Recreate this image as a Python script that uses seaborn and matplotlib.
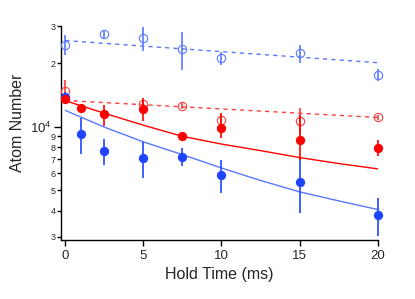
import numpy as np
import pandas as pd
import matplotlib
matplotlib.use("Agg")
import matplotlib.pyplot as plt
import matplotlib.ticker as mticker
import seaborn as sns

t_filled = [0, 1, 2.5, 5, 7.5, 10, 15, 20]
blue_filled = [1.386e4, 9.27e3, 7.64e3, 7.11e3, 7.19e3, 5.89e3, 5.48e3, 3.81e3]
blue_filled_lo = [1.31e4, 7.43e3, 6.56e3, 5.72e3, 6.49e3, 4.86e3, 3.88e3, 3.03e3]
blue_filled_hi = [1.46e4, 1.099e4, 8.75e3, 8.43e3, 7.93e3, 6.93e3, 7.11e3, 4.60e3]

red_filled = [1.36e4, 1.225e4, 1.143e4, 1.212e4, 9.0e3, 9.82e3, 8.68e3, 7.93e3]
red_filled_lo = [1.29e4, 1.18e4, 1.011e4, 1.059e4, 8.7e3, 8.84e3, 6.98e3, 7.24e3]
red_filled_hi = [1.45e4, 1.27e4, 1.27e4, 1.366e4, 9.3e3, 1.16e4, 1.14e4, 8.62e3]

t_blue_open = [0, 2.5, 5, 7.5, 10, 15, 20]
blue_open = [2.44e4, 2.74e4, 2.62e4, 2.33e4, 2.11e4, 2.23e4, 1.76e4]
blue_open_lo = [2.19e4, 2.63e4, 2.29e4, 1.85e4, 1.96e4, 2.01e4, 1.65e4]
blue_open_hi = [2.72e4, 2.84e4, 2.97e4, 2.82e4, 2.27e4, 2.44e4, 1.87e4]

t_red_open = [0, 5, 7.5, 10, 15, 20]
red_open = [1.484e4, 1.284e4, 1.247e4, 1.079e4, 1.059e4, 1.106e4]
red_open_lo = [1.37e4, 1.24e4, 1.21e4, 1.04e4, 9.17e3, 1.08e4]
red_open_hi = [1.667e4, 1.33e4, 1.29e4, 1.13e4, 1.229e4, 1.13e4]

# fit curves
t_fit = [0, 2.5, 5, 7.5, 10, 12.5, 15, 17.5, 20]
blue_fit = [1.194e4, 9.95e3, 8.47e3, 7.37e3, 6.37e3, 5.56e3, 4.91e3, 4.45e3, 4.05e3]
red_fit = [1.327e4, 1.158e4, 1.016e4, 9.0e3, 8.27e3, 7.70e3, 7.14e3, 6.69e3, 6.31e3]
t_fit_open = [0, 20]
blue_open_fit = [2.56e4, 2.01e4]
red_open_fit = [1.331e4, 1.106e4]

BLUE = "#1f44ff"
BLUE_LIGHT = "#5a78ff"
RED = "#ff0000"
RED_LIGHT = "#ff3c3c"

sns.set_style("ticks")
plt.rcParams["font.family"] = ["Liberation Sans", "DejaVu Sans"]
plt.rcParams["mathtext.default"] = "regular"

fig = plt.figure(figsize=(4.15, 2.99), dpi=100)
ax = fig.add_axes([0.148, 0.197, 0.762, 0.716])
ax.set_yscale("log")

# fit lines
fits = pd.DataFrame({"t": t_fit, "blue": blue_fit, "red": red_fit})
sns.lineplot(data=fits, x="t", y="blue", ax=ax, color=BLUE_LIGHT, lw=1.0)
sns.lineplot(data=fits, x="t", y="red", ax=ax, color=RED, lw=1.0)
fits_open = pd.DataFrame({"t": t_fit_open, "blue": blue_open_fit, "red": red_open_fit})
sns.lineplot(data=fits_open, x="t", y="blue", ax=ax, color=BLUE_LIGHT, lw=1.0)
sns.lineplot(data=fits_open, x="t", y="red", ax=ax, color=RED_LIGHT, lw=1.0)
for ln in ax.lines[2:]:
    ln.set_dashes((3, 3))


def err(vals, lo, hi):
    v = np.array(vals)
    return [v - np.array(lo), np.array(hi) - v]


# open circles
ax.errorbar(t_blue_open, blue_open, yerr=err(blue_open, blue_open_lo, blue_open_hi),
            fmt="o", mfc="none", mec=BLUE_LIGHT, ecolor=BLUE_LIGHT, ms=6, mew=0.8,
            elinewidth=1.2, capsize=0, clip_on=False, zorder=3)
ax.errorbar(t_red_open, red_open, yerr=err(red_open, red_open_lo, red_open_hi),
            fmt="o", mfc="none", mec=RED_LIGHT, ecolor=RED_LIGHT, ms=6, mew=0.8,
            elinewidth=1.2, capsize=0, clip_on=False, zorder=3)

# filled circles
ax.errorbar(t_filled, blue_filled, yerr=err(blue_filled, blue_filled_lo, blue_filled_hi),
            fmt="none", ecolor=BLUE, elinewidth=1.2, capsize=0, clip_on=False, zorder=4)
ax.errorbar(t_filled, red_filled, yerr=err(red_filled, red_filled_lo, red_filled_hi),
            fmt="none", ecolor=RED, elinewidth=1.2, capsize=0, clip_on=False, zorder=4)
pts = pd.DataFrame({"t": t_filled, "blue": blue_filled, "red": red_filled})
sns.scatterplot(data=pts, x="t", y="blue", ax=ax, color=BLUE, s=45, linewidth=0, zorder=5, clip_on=False)
sns.scatterplot(data=pts, x="t", y="red", ax=ax, color=RED, s=45, linewidth=0, zorder=5, clip_on=False)

ax.set_xlim(-0.25, 20)
ax.set_ylim(2.9e3, 3.0e4)

# axes styling
sns.despine(ax=ax)
for s in ["left", "bottom"]:
    ax.spines[s].set_linewidth(1.0)
    ax.spines[s].set_color("black")

ax.set_xticks([0, 5, 10, 15, 20])
ax.tick_params(axis="x", labelsize=9.5, length=4, width=1, color="black", pad=3)

ax.yaxis.set_major_locator(mticker.FixedLocator([1e4]))
ax.yaxis.set_major_formatter(mticker.FixedFormatter(["$10^4$"]))
minor_pos = [3e3, 4e3, 5e3, 6e3, 7e3, 8e3, 9e3, 2e4, 3e4]
minor_lab = ["3", "4", "5", "6", "7", "8", "9", "2", "3"]
ax.yaxis.set_minor_locator(mticker.FixedLocator(minor_pos))
ax.yaxis.set_minor_formatter(mticker.FixedFormatter(minor_lab))
ax.tick_params(axis="y", which="major", labelsize=9.5, length=5, width=1, color="black", pad=2)
ax.tick_params(axis="y", which="minor", labelsize=6.5, length=3, width=1, color="black", pad=1)

ax.set_xlabel("Hold Time (ms)", fontsize=11.5, labelpad=4)
ax.set_ylabel("Atom Number", fontsize=11.5)
ax.yaxis.set_label_coords(-0.115, 0.55)

fig.savefig("out.png", dpi=100)
